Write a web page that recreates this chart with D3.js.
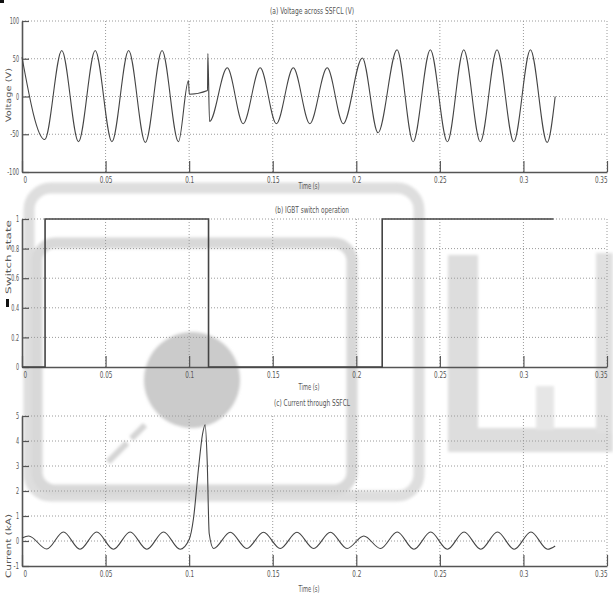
<!DOCTYPE html>
<html>
<head>
<meta charset="utf-8">
<script src="https://cdn.jsdelivr.net/npm/d3@7"></script>
<style>
  html, body { margin: 0; padding: 0; background: #fff; }
  svg { display: block; }
  text { font-family: "Liberation Sans Narrow", "DejaVu Sans Condensed", "Liberation Sans", sans-serif; fill: #555; }
</style>
</head>
<body>
<svg id="chart" width="613" height="596"></svg>
<script>
// ---- data ----
const timeTicks    = [0, 0.05, 0.1, 0.15, 0.2, 0.25, 0.3, 0.35];
const voltageTicks = [-100, -50, 0, 50, 100];
const switchTicks  = [0, 0.2, 0.4, 0.6, 0.8, 1];
const currentTicks = [-1, 0, 1, 2, 3, 4, 5];

// (a) voltage across the SSFCL, V — turning points of the waveform
const voltageTime  = [0, 0.0136, 0.0238, 0.0338, 0.0438, 0.0538, 0.0638, 0.0738, 0.0838, 0.0936,
                      0.0996, 0.1001, 0.1110, 0.1112, 0.1122,
                      0.1228, 0.1323, 0.1425, 0.1522, 0.1623, 0.1722, 0.1826, 0.1922,
                      0.2036, 0.2130, 0.2244, 0.2340, 0.2443, 0.2545, 0.2643, 0.2742,
                      0.2842, 0.2942, 0.3042, 0.3142, 0.3190];
const voltageValue = [52, -57, 61, -60, 61, -60, 61, -61, 61, -60,
                      21, 3, 8, 57, -33,
                      38, -36, 38, -36, 38, -36, 38, -36,
                      51, -48, 62, -60, 62, -60, 62, -60,
                      62, -60, 62, -61, 0];

// (b) IGBT switch state (1 = on)
const switchTime  = [0, 0.0138, 0.1116, 0.2155, 0.318];
const switchState = [0, 1, 0, 1, 1];

// (c) current through the SSFCL, kA
const currentTime  = [0, 0.004, 0.0148, 0.0248, 0.0347, 0.0447, 0.0547, 0.0647, 0.0747, 0.0847, 0.0946,
                      0.1000, 0.1026, 0.1056, 0.1080, 0.1096, 0.1108, 0.1120,
                      0.1146, 0.1246, 0.1345, 0.1445, 0.1545, 0.1645, 0.1745, 0.1845, 0.1945,
                      0.2045, 0.2145, 0.2245, 0.2345, 0.2445, 0.2545, 0.2645, 0.2745,
                      0.2845, 0.2945, 0.3045, 0.3145, 0.3190];
const currentValue = [0.12, 0.2, -0.32, 0.36, -0.33, 0.36, -0.33, 0.36, -0.33, 0.36, -0.33,
                      0.06, 0.9, 2.9, 4.27, 4.65, 3.2, 0.3,
                      -0.3, 0.35, -0.3, 0.35, -0.3, 0.35, -0.3, 0.35, -0.3,
                      0.2, -0.3, 0.36, -0.33, 0.36, -0.33, 0.36, -0.33,
                      0.36, -0.33, 0.36, -0.33, -0.2];

// ---- drawing ----
const svg = d3.select("#chart");
const X0 = 22, X1 = 607;

// soft logo stamp behind the plots
svg.append("defs").append("filter").attr("id", "soft")
  .attr("x", "-10%").attr("y", "-10%").attr("width", "120%").attr("height", "120%")
  .append("feGaussianBlur").attr("stdDeviation", 1.8);
const stamp = svg.append("g").attr("class", "stamp").attr("filter", "url(#soft)");
stamp.append("rect").attr("x", 29).attr("y", 188).attr("width", 390).attr("height", 308).attr("rx", 22)
  .attr("fill", "none").attr("stroke", "#dedede").attr("stroke-width", 11);
stamp.append("rect").attr("x", 37).attr("y", 243).attr("width", 315).attr("height", 247).attr("rx", 18)
  .attr("fill", "none").attr("stroke", "#d8d8d8").attr("stroke-width", 11);
stamp.append("rect").attr("x", 448).attr("y", 255).attr("width", 30).attr("height", 197).attr("fill", "#dddddd");
stamp.append("rect").attr("x", 448).attr("y", 428).attr("width", 165).attr("height", 24).attr("fill", "#dddddd");
stamp.append("rect").attr("x", 596).attr("y", 253).attr("width", 17).attr("height", 180).attr("fill", "#e0e0e0");
stamp.append("rect").attr("x", 536).attr("y", 386).attr("width", 18).attr("height", 44).attr("fill", "#e6e6e6");
stamp.append("circle").attr("cx", 192).attr("cy", 380).attr("r", 48).attr("fill", "#cbcbcb");
stamp.append("line").attr("x1", 108).attr("y1", 462).attr("x2", 145).attr("y2", 425)
  .attr("stroke", "#d4d4d4").attr("stroke-width", 6).attr("stroke-dasharray", "27,6");
svg.append("rect").attr("x", 0).attr("y", 0).attr("width", 4).attr("height", 3).attr("fill", "#111");
svg.append("rect").attr("x", 6).attr("y", 299).attr("width", 3).attr("height", 8).attr("fill", "#111");

const x = d3.scaleLinear().domain([0, 0.35]).range([X0, X1]);
const fmtT = d => d === 0 ? "0" : String(d);

// narrow label width: digits, dots and minus signs
const labelWidth = (s, digit) => {
  let w = 0;
  for (const c of s) w += c === "." ? digit * 0.5 : c === "-" ? digit * 0.8 : digit;
  return w;
};

function panel(opt) {
  const y = d3.scaleLinear().domain(opt.domain).range([opt.bottom, opt.top]);
  const g = svg.append("g");

  // dotted grid
  const grid = g.append("g").attr("stroke", "#9a9a9a").attr("stroke-width", 1).attr("stroke-dasharray", "1,2");
  grid.selectAll(".vx").data(timeTicks.slice(1)).join("line")
    .attr("x1", d => x(d)).attr("x2", d => x(d)).attr("y1", opt.top).attr("y2", opt.bottom);
  grid.selectAll(".hy").data(opt.ticks.slice(1)).join("line")
    .attr("x1", X0).attr("x2", X1).attr("y1", d => y(d)).attr("y2", d => y(d));

  // axes with inward ticks
  const ax = g.append("g").attr("transform", `translate(0,${opt.bottom})`)
    .call(d3.axisBottom(x).tickValues(timeTicks).tickFormat(fmtT).tickSizeInner(-11).tickSizeOuter(0).tickPadding(5));
  const ay = g.append("g").attr("transform", `translate(${X0},0)`)
    .call(d3.axisLeft(y).tickValues(opt.ticks).tickFormat(d => String(d)).tickSizeInner(-7).tickSizeOuter(0).tickPadding(3));
  [ax, ay].forEach(a => {
    a.select(".domain").attr("stroke", "#555").attr("stroke-width", 1.6);
    a.selectAll(".tick line").attr("stroke", "#555").attr("stroke-width", 1.2);
    a.selectAll(".tick text").attr("fill", "#555").style("font-size", "8.5px")
      .attr("lengthAdjust", "spacingAndGlyphs");
  });
  ax.selectAll(".tick text").attr("textLength", function () { return labelWidth(this.textContent, 3.6); });
  ay.selectAll(".tick text").attr("textLength", function () { return labelWidth(this.textContent, 3.1); });
  // keep the end labels clear of the corner and of the frame edge
  ax.selectAll(".tick text").filter(d => d === 0).attr("text-anchor", "start").attr("x", 1);
  ax.selectAll(".tick text").filter(d => d === 0.35).attr("text-anchor", "end").attr("x", 0);

  // series
  g.append("path")
    .datum(opt.t.map((t, i) => [t, opt.v[i]]))
    .attr("fill", "none").attr("stroke", "#444").attr("stroke-width", opt.width || 1.1)
    .attr("d", d3.line().x(d => x(d[0])).y(d => y(d[1])).curve(opt.curve));

  // labels
  g.append("text").attr("x", 312).attr("y", opt.titleY).attr("text-anchor", "middle")
    .attr("textLength", opt.titleW).attr("lengthAdjust", "spacingAndGlyphs")
    .style("font-size", "9.5px").text(opt.title);
  g.append("text").attr("x", 309).attr("y", opt.xlabelY).attr("text-anchor", "middle")
    .attr("textLength", 21).attr("lengthAdjust", "spacingAndGlyphs")
    .style("font-size", "8.5px").text("Time (s)");
  g.append("text").attr("transform", `translate(11,${opt.ylabelY}) rotate(-90)`).attr("text-anchor", "middle")
    .attr("textLength", opt.ylabelW).attr("lengthAdjust", "spacingAndGlyphs")
    .style("font-size", "7.5px").text(opt.ylabel);
}

panel({ top: 21, bottom: 172, domain: [-100, 100], ticks: voltageTicks,
        t: voltageTime, v: voltageValue, curve: d3.curveMonotoneX,
        title: "(a) Voltage across SSFCL (V)", titleW: 84, titleY: 14, xlabelY: 189,
        ylabel: "Voltage (V)", ylabelW: 54, ylabelY: 95 });

panel({ top: 219, bottom: 367, domain: [0, 1], ticks: switchTicks,
        t: switchTime, v: switchState, curve: d3.curveStepAfter, width: 1.6,
        title: "(b) IGBT switch operation", titleW: 74, titleY: 213, xlabelY: 390,
        ylabel: "Switch state", ylabelW: 74, ylabelY: 257 });

panel({ top: 416, bottom: 566, domain: [-1, 5], ticks: currentTicks,
        t: currentTime, v: currentValue, curve: d3.curveMonotoneX,
        title: "(c) Current through SSFCL", titleW: 76, titleY: 406, xlabelY: 592,
        ylabel: "Current (kA)", ylabelW: 64, ylabelY: 546 });
</script>
</body>
</html>
